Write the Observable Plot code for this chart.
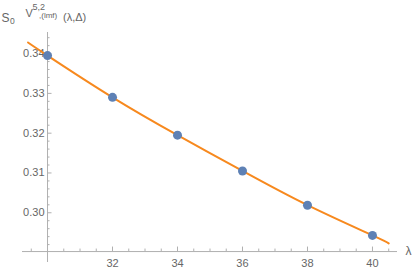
<!DOCTYPE html>
<html><head><meta charset="utf-8">
<script src="https://cdn.jsdelivr.net/npm/d3@7"></script>
<script src="https://cdn.jsdelivr.net/npm/@observablehq/plot@0.6"></script>
<style>
body{margin:0;background:#fff;}
#wrap{position:relative;width:415px;height:271px;}
#lab{position:absolute;left:0;top:0;}
#lab text{font-family:"Liberation Sans",Arial,sans-serif;fill:#666;}
</style></head>
<body><div id="wrap"><div id="chart"></div>
<svg id="lab" width="120" height="30">
  <text x="1.5" y="21.5" font-size="12">S</text>
  <text x="10" y="24" font-size="8.5">0</text>
  <text x="25.5" y="16.5" font-size="11">V</text>
  <text x="32.5" y="9.5" font-size="9">5,2</text>
  <text x="39" y="18" font-size="8">,(lmf)</text>
  <text x="63" y="20.5" font-size="11">(λ,Δ)</text>
</svg>
</div>
<script>
// data points
const lambda = [30, 32, 34, 36, 38, 40];
const values = [0.3395, 0.3290, 0.3195, 0.3105, 0.3019, 0.2943];
// fitted curve (extends beyond points)
const curveLambda = [29.4, 30, 32, 34, 36, 38, 40, 40.5];
const curveValues = [0.3428, 0.3395, 0.3290, 0.3195, 0.3105, 0.3019, 0.2943, 0.2923];
// ticks
const xMajor = [32, 34, 36, 38, 40];
const xMajorLabels = ["32", "34", "36", "38", "40"];
const xMinor = [29.5, 30.5, 31, 31.5, 32.5, 33, 33.5, 34.5, 35, 35.5, 36.5, 37, 37.5, 38.5, 39, 39.5, 40.5];
const yMajor = [0.30, 0.31, 0.32, 0.33, 0.34];
const yMajorLabels = ["0.30", "0.31", "0.32", "0.33", "0.34"];
const yMinor = [0.292, 0.294, 0.296, 0.298, 0.302, 0.304, 0.306, 0.308, 0.312, 0.314, 0.316, 0.318,
  0.322, 0.324, 0.326, 0.328, 0.332, 0.334, 0.336, 0.338, 0.342, 0.344];
const xOrigin = 30;
const yOrigin = 0.29025;
const xDomain = [29.23, 40.77];
const yDomain = [0.2875, 0.3453];

const W = 415, H = 271, mL = 22, mR = 18, mT = 32, mB = 9;
const pxPerX = (W - mL - mR) / (xDomain[1] - xDomain[0]);
const pxPerY = (H - mT - mB) / (yDomain[1] - yDomain[0]);
const axisColor = "#b0b0b0";
const font = "Liberation Sans, Arial, sans-serif";

const chart = Plot.plot({
  width: W, height: H,
  marginLeft: mL, marginRight: mR, marginTop: mT, marginBottom: mB,
  x: {domain: xDomain, axis: null},
  y: {domain: yDomain, axis: null},
  style: {fontFamily: font, overflow: "visible"},
  marks: [
    Plot.ruleY([yOrigin], {stroke: axisColor, strokeWidth: 1}),
    Plot.ruleX([xOrigin], {stroke: axisColor, strokeWidth: 1}),
    Plot.ruleX(xMajor, {x: d => d, y1: yOrigin, y2: yOrigin + 4.5 / pxPerY, stroke: axisColor}),
    Plot.ruleX(xMinor, {x: d => d, y1: yOrigin, y2: yOrigin + 2.5 / pxPerY, stroke: axisColor}),
    Plot.ruleY(yMajor, {y: d => d, x1: xOrigin, x2: xOrigin + 4.5 / pxPerX, stroke: axisColor}),
    Plot.ruleY(yMinor, {y: d => d, x1: xOrigin, x2: xOrigin + 2.5 / pxPerX, stroke: axisColor}),
    Plot.text(xMajor, {x: d => d, y: yOrigin, text: (d, i) => xMajorLabels[i], dy: 12, fontSize: 11, fill: "#666", fontFamily: font}),
    Plot.text(yMajor, {y: d => d, x: xOrigin, text: (d, i) => yMajorLabels[i], dx: -3, textAnchor: "end", fontSize: 11, fill: "#666", fontFamily: font}),
    Plot.text(["λ"], {x: xDomain[1], y: yOrigin, text: d => d, dx: 11, fontSize: 12, fill: "#666", fontFamily: font}),
    Plot.line(curveLambda.map((x, i) => ({x, y: curveValues[i]})), {x: "x", y: "y", curve: "natural", stroke: "#f7891e", strokeWidth: 2}),
    Plot.dot(lambda.map((x, i) => ({x, y: values[i]})), {x: "x", y: "y", r: 4.5, fill: "#5e81b5", stroke: "none"})
  ]
});
document.getElementById("chart").appendChild(chart);
</script>
</body></html>
